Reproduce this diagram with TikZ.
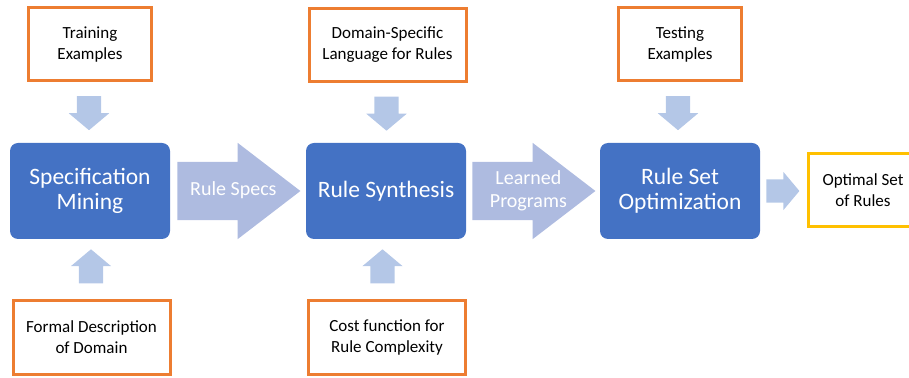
\documentclass[tikz,border=0pt]{standalone}
\usepackage{fontspec}
\setmainfont{Carlito}
\usetikzlibrary{shapes.arrows,positioning}
\definecolor{boxorange}{HTML}{ED7D31}
\definecolor{boxyellow}{HTML}{FFC000}
\definecolor{stageblue}{HTML}{4472C4}
\definecolor{flowblue}{HTML}{AEBBE0}
\definecolor{feedblue}{HTML}{B4C7E7}
% label over the shaft, shifted towards the head
\newcommand{\arrowlabel}[1]{\parbox[c][58pt][c]{61pt}{\hspace*{44pt}\makebox[0pt]{\begin{tabular}{@{}c@{}}#1\end{tabular}}}}
\tikzset{
  inbox/.style={draw=boxorange, line width=3pt, fill=white, minimum width=123pt, minimum height=73pt, align=center, font=\fontsize{17}{21}\selectfont},
  stage/.style={fill=stageblue, rounded corners=8pt, minimum width=160pt, minimum height=96pt, align=center, text=white, font=\fontsize{23.5}{25}\selectfont},
  flow/.style={single arrow, fill=flowblue, text=white, anchor=tail, minimum height=123pt, single arrow head extend=19pt, single arrow tip angle=75, inner sep=0pt, font=\fontsize{20}{23}\selectfont},
  feed/.style={single arrow, fill=feedblue, anchor=tail, minimum height=34pt, single arrow head extend=8pt, single arrow tip angle=100, inner xsep=12pt, inner ysep=0pt},
}
\begin{document}
\begin{tikzpicture}[x=1pt, y=1pt]
    \useasboundingbox (0,0) rectangle (909,377);
    \node[stage] (spec) at (90,186){Specification\\Mining};
    \node[stage] (synth) at (386,186){Rule Synthesis};
    \node[stage] (optim) at (680,186){Rule Set\\Optimization};

    \node[inbox] at ([yshift=146.5pt]spec.center)(train){Training\\Examples};
    \node[inbox, minimum width=157pt] at ([xshift=1.5pt, yshift=146pt]synth.center)(dsl){Domain-Specific\\Language for Rules};
    \node[inbox] at ([yshift=146.5pt]optim.center)(test){Testing\\Examples};
    \node[inbox, minimum width=157pt] at ([xshift=1.5pt, yshift=-146.5pt]spec.center)(formal){Formal Description\\of Domain};
    \node[inbox, minimum width=157pt] at ([xshift=1pt, yshift=-146.5pt]synth.center)(cost){Cost function for\\Rule Complexity};
    \node[inbox, draw=boxyellow, minimum width=110pt] at (863,186.5)(optimal){Optimal Set\\of Rules};

    \node[feed, shape border rotate=270] at ([xshift=-1pt, yshift=-13.5pt]train.south)(trainarr){};
    \node[feed, shape border rotate=270] at ([xshift=-1pt, yshift=-13.5pt]dsl.south)(dslarr){};
    \node[feed, shape border rotate=270] at ([xshift=-2pt, yshift=-13.5pt]test.south)(testarr){};
    \node[feed, shape border rotate=90] at ([xshift=-0.5pt, yshift=16pt]formal.north)(formalarr){};
    \node[feed, shape border rotate=90] at ([xshift=-4.5pt, yshift=16pt]cost.north)(costarr){};

    \node[flow] at ([xshift=7pt]spec.east)(specs){\arrowlabel{Rule Specs}};
    \node[flow] at ([xshift=6pt]synth.east)(learned){\arrowlabel{Learned\\Programs}};
    \node[feed, minimum height=33pt, inner xsep=0pt, inner ysep=11.5pt, single arrow head extend=7.5pt] at ([xshift=6pt]optim.east)(outarr){};
\end{tikzpicture}
\end{document}
